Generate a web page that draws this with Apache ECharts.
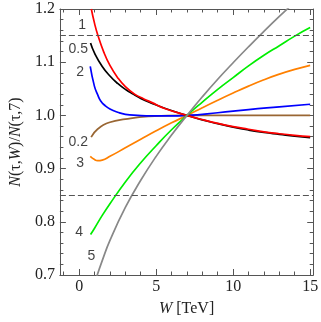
<!DOCTYPE html>
<html>
<head>
<meta charset="utf-8">
<style>
  html, body { margin: 0; padding: 0; background: #fff; }
  #main { width: 321px; height: 322px; }
</style>
<script src="https://cdn.jsdelivr.net/npm/echarts@6/dist/echarts.min.js"></script>
</head>
<body>
<div id="main"></div>
<script>
// ratio N(tau,W)/N(tau,7), one curve per tau
const wRed = [0.79, 1.0, 1.2, 1.6, 2.0, 2.5, 3.0, 3.6, 4.2, 4.7, 5.6, 7, 8, 9, 10, 11, 12, 13, 14, 15]
const nRed = [1.2, 1.173, 1.152, 1.119, 1.094, 1.071, 1.054, 1.040, 1.031, 1.0245, 1.0125, 1.0, 0.992, 0.985, 0.979, 0.974, 0.969, 0.9655, 0.9625, 0.960]

const wBlack = [0.74, 1.0, 1.5, 2.0, 2.5, 3.0, 3.5, 4.0, 4.7, 5.6, 7, 8, 9, 10, 11, 12, 13, 14, 15]
const nBlack = [1.136, 1.117, 1.092, 1.074, 1.060, 1.049, 1.040, 1.032, 1.023, 1.013, 1.0, 0.9915, 0.9845, 0.978, 0.9725, 0.968, 0.9645, 0.961, 0.958]

const wBlue = [0.72, 0.99, 1.2, 1.4, 1.7, 2.0, 2.5, 3.0, 3.8, 4.7, 5.8, 7, 9, 11, 13, 15]
const nBlue = [1.092, 1.055, 1.039, 1.027, 1.018, 1.012, 1.006, 1.002, 1.0, 0.999, 0.999, 1.0, 1.005, 1.011, 1.016, 1.021]

const wBrown = [0.78, 1.19, 2.0, 3.0, 4.5, 7, 10, 15]
const nBrown = [0.959, 0.974, 0.987, 0.993, 0.998, 1.0, 1.0, 1.0]

const wOrange = [0.72, 1.0, 1.2, 1.5, 2, 3, 4, 5, 6, 7, 8, 9, 10, 11, 12, 13, 14, 15]
const nOrange = [0.923, 0.917, 0.915, 0.916, 0.923, 0.939, 0.955, 0.971, 0.986, 1.0, 1.0145, 1.0285, 1.042, 1.055, 1.067, 1.0775, 1.0865, 1.094]

const wGreen = [0.74, 1.0, 1.5, 2, 3, 4, 5, 6, 7, 8, 9, 10, 11, 12, 13, 14, 15]
const nGreen = [0.776, 0.788, 0.812, 0.834, 0.875, 0.911, 0.943, 0.973, 1.0, 1.025, 1.049, 1.071, 1.093, 1.113, 1.131, 1.149, 1.165]

const wGray = [1.13, 1.5, 2, 3, 4, 5, 6, 7, 8, 9, 10, 11, 12, 13, 14]
const nGray = [0.696, 0.727, 0.765, 0.827, 0.878, 0.923, 0.963, 1.0, 1.035, 1.068, 1.099, 1.129, 1.158, 1.186, 1.213]

// curve labels (tau) and where they sit
const tauLabels = ['1', '0.5', '2', '0.2', '3', '4', '5']
const tauLabelW = [0.19, -0.06, 0.06, -0.06, 0.06, 0.0, 0.8]
const tauLabelN = [1.170, 1.125, 1.081, 0.95, 0.911, 0.780, 0.735]

const dashLevels = [1.15, 0.85]

const xMajor = [0, 5, 10, 15]
const xMinor = [-1, 1, 2, 3, 4, 6, 7, 8, 9, 11, 12, 13, 14]
const yMajor = [0.7, 0.8, 0.9, 1.0, 1.1, 1.2]
const yMinor = []
for (let k = 36; k <= 59; k++) {
  if (k % 5 !== 0) yMinor.push(+(k * 0.02).toFixed(2))
}

const pairs = (w, n) => w.map((v, i) => [v, n[i]])

const frame = '#555'
const serif = "'Liberation Serif', 'DejaVu Serif', serif"

function xAx(pos, vals, len, labels) {
  return {
    type: 'value', position: pos, min: -1.25, max: 15.2,
    axisLine: { show: labels, onZero: false, lineStyle: { color: frame, width: 1 } },
    axisTick: { show: true, inside: true, length: len, customValues: vals, lineStyle: { color: frame, width: 1 } },
    axisLabel: {
      show: labels, customValues: vals, margin: 4,
      color: '#222', fontFamily: serif, fontSize: 16,
      formatter: v => String(v)
    },
    splitLine: { show: false },
  }
}
function yAx(pos, vals, len, labels) {
  return {
    type: 'value', position: pos, min: 0.7, max: 1.2,
    axisLine: { show: labels, onZero: false, lineStyle: { color: frame, width: 1 } },
    axisTick: { show: true, inside: true, length: len, customValues: vals, lineStyle: { color: frame, width: 1 } },
    axisLabel: {
      show: labels, customValues: vals, margin: 5,
      color: '#222', fontFamily: serif, fontSize: 16,
      formatter: v => v.toFixed(1)
    },
    splitLine: { show: false },
  }
}

const xAxes = [
  xAx('bottom', xMajor, 6, true),
  xAx('bottom', xMinor, 3.5, false),
  xAx('top', xMajor, 6, false),
  xAx('top', xMinor, 3.5, false),
]
xAxes[2].axisLine.show = true
Object.assign(xAxes[0], {
  name: '{i|W} [TeV]', nameLocation: 'middle', nameGap: 26,
  nameTextStyle: {
    color: '#222', fontFamily: serif, fontSize: 16,
    rich: { i: { fontStyle: 'italic', fontFamily: serif, fontSize: 16, color: '#222' } }
  }
})

const yAxes = [
  yAx('left', yMajor, 6, true),
  yAx('left', yMinor, 3.5, false),
  yAx('right', yMajor, 6, false),
  yAx('right', yMinor, 3.5, false),
]
yAxes[2].axisLine.show = true
Object.assign(yAxes[0], {
  name: '{i|N}(τ,{i|W})/{i|N}(τ,7)', nameLocation: 'middle', nameGap: 33, nameRotate: 90,
  nameTextStyle: {
    color: '#222', fontFamily: serif, fontSize: 16,
    rich: { i: { fontStyle: 'italic', fontFamily: serif, fontSize: 16, color: '#222' } }
  }
})

function curve(w, n, color) {
  return {
    type: 'line', xAxisIndex: 0, yAxisIndex: 0,
    data: pairs(w, n), smooth: 0.5, showSymbol: false, symbol: 'none',
    lineStyle: { color: color, width: 1.7 },
    clip: true, z: 3,
  }
}

const series = [
  curve(wBrown, nBrown, '#996633'),
  curve(wOrange, nOrange, '#ff8000'),
  curve(wBlue, nBlue, '#0000ff'),
  curve(wBlack, nBlack, '#000000'),
  curve(wRed, nRed, '#ff0000'),
  curve(wGreen, nGreen, '#00ee00'),
  curve(wGray, nGray, '#888888'),
  {
    type: 'line', data: [], xAxisIndex: 0, yAxisIndex: 0,
    markLine: {
      silent: true, symbol: 'none', label: { show: false },
      lineStyle: { color: '#555', type: [6, 3], width: 1 },
      data: dashLevels.map(v => ({ yAxis: v }))
    }
  },
  {
    type: 'scatter', xAxisIndex: 0, yAxisIndex: 0,
    symbolSize: 1, itemStyle: { color: 'transparent' },
    data: tauLabels.map((t, i) => ({ name: t, value: [tauLabelW[i], tauLabelN[i]] })),
    label: {
      show: true, position: 'inside', formatter: p => p.name,
      color: '#111', fontSize: 14, fontFamily: "'Liberation Sans', Arial, sans-serif"
    },
    z: 5,
  },
]

const chart = echarts.init(document.getElementById('main'), null, { renderer: 'canvas' })
chart.setOption({
  animation: false,
  backgroundColor: '#fff',
  grid: { left: 49, right: 6, top: 9, bottom: 45, containLabel: false },
  xAxis: xAxes,
  yAxis: yAxes,
  series: series,
})
</script>
</body>
</html>
